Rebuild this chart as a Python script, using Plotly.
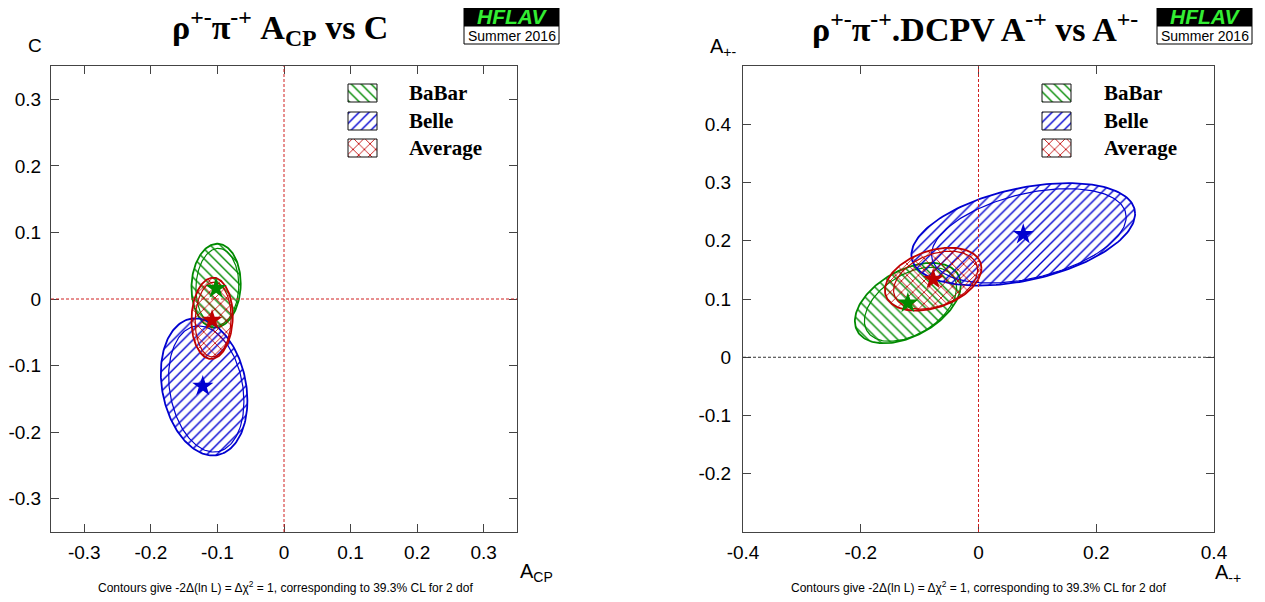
import numpy as np
import plotly.graph_objects as go

# experiments, in legend order
EXPERIMENTS = ["BaBar", "Belle", "Average"]
COLORS = {"BaBar": "#008a00", "Belle": "#0000d0", "Average": "#c00000"}
PATTERNS = {"BaBar": "\\", "Belle": "/", "Average": "x"}

# left panel: A_CP vs C  (centre, sigma, correlation)
ACP_MEAN = [-0.102, -0.120, -0.108]
ACP_SIGMA = [0.037, 0.065, 0.031]
C_MEAN = [0.020, -0.132, -0.029]
C_SIGMA = [0.063, 0.103, 0.061]
ACP_C_RHO = [0.05, -0.20, 0.05]
ACP_STAR = [-0.102, -0.122, -0.108]
C_STAR = [0.016, -0.131, -0.032]

# right panel: A-+ vs A+-
AMP_MEAN = [-0.120, 0.076, -0.077]
AMP_SIGMA = [0.090, 0.190, 0.082]
APM_MEAN = [0.093, 0.211, 0.134]
APM_SIGMA = [0.069, 0.088, 0.054]
AMP_APM_RHO = [0.45, 0.40, 0.35]

W, H = 1265, 602
OFF = 8  # page body margin shifts the figure


def px(p):
    return (p - OFF) / W


def py(p):
    return 1 - (p - OFF) / H


def ellipse(cx, cy, sx, sy, rho, n=181):
    t = np.linspace(0, 2 * np.pi, n)
    x = cx + sx * np.cos(t)
    y = cy + sy * (rho * np.cos(t) + np.sqrt(1 - rho ** 2) * np.sin(t))
    return x, y


def pattern(name):
    return dict(shape=PATTERNS[name], fgcolor=COLORS[name], fgopacity=1, bgcolor="rgba(0,0,0,0)",
                size=7 if name != "Average" else 8, solidity=0.2)


fig = go.Figure()


def add_panel(xs, sxs, ys, sys_, rhos, stars_x, stars_y, xaxis, yaxis):
    for i, name in enumerate(EXPERIMENTS):
        col = COLORS[name]
        x, y = ellipse(xs[i], ys[i], sxs[i], sys_[i], rhos[i])
        fig.add_trace(go.Scatter(
            x=x, y=y, mode="lines", fill="toself", name=name,
            line=dict(color=col, width=1.8), fillcolor="rgba(0,0,0,0)", fillpattern=pattern(name),
            xaxis=xaxis, yaxis=yaxis, showlegend=False, hoverinfo="skip"))
        # second, slightly smaller contour line inside the hatched region
        xi, yi = ellipse(xs[i] + 0.05 * sxs[i], ys[i] - 0.03 * sys_[i], 0.87 * sxs[i], 0.92 * sys_[i], rhos[i])
        fig.add_trace(go.Scatter(
            x=xi, y=yi, mode="lines", line=dict(color=col, width=1.2),
            xaxis=xaxis, yaxis=yaxis, showlegend=False, hoverinfo="skip"))
    for i, name in enumerate(EXPERIMENTS):
        fig.add_trace(go.Scatter(
            x=[stars_x[i]], y=[stars_y[i]], mode="markers",
            marker=dict(symbol="star", size=16, color=COLORS[name], line=dict(width=0)),
            xaxis=xaxis, yaxis=yaxis, showlegend=False, hoverinfo="skip"))


add_panel(ACP_MEAN, ACP_SIGMA, C_MEAN, C_SIGMA, ACP_C_RHO, ACP_STAR, C_STAR, "x", "y")
add_panel(AMP_MEAN, AMP_SIGMA, APM_MEAN, APM_SIGMA, AMP_APM_RHO, AMP_MEAN, APM_MEAN, "x2", "y2")

# legend boxes, drawn on a pixel overlay (x3/y3) so they can carry the hatch patterns
LEGEND_ROWS = [93, 121, 148]
for left, text_x in ((348, 407), (1042, 1102)):
    for name, yc in zip(EXPERIMENTS, LEGEND_ROWS):
        x0, x1, y0, y1 = left, left + 29, yc - 9, yc + 9
        fig.add_trace(go.Scatter(
            x=[x0, x1, x1, x0, x0], y=[y0, y0, y1, y1, y0], mode="lines", fill="toself",
            line=dict(color="#111", width=1), fillcolor="rgba(0,0,0,0)", fillpattern=pattern(name),
            xaxis="x3", yaxis="y3", showlegend=False, hoverinfo="skip"))
        fig.add_annotation(x=text_x, y=yc, xref="x3", yref="y3", text="<b>%s</b>" % name, showarrow=False,
                           xanchor="left", yanchor="middle",
                           font=dict(family="Liberation Serif, Times New Roman", size=21, color="black"))

axis_common = dict(showgrid=False, zeroline=False, showline=True, linecolor="#444", linewidth=1,
                   mirror="ticks", ticks="inside", ticklen=8, tickcolor="#444", automargin=False,
                   tickfont=dict(family="Liberation Sans, Arial", size=19, color="black"))

y_dom = [py(532), py(66)]
lt = [-0.3, -0.2, -0.1, 0, 0.1, 0.2, 0.3]
lt_text = ["-0.3", "-0.2", "-0.1", "0", "0.1", "0.2", "0.3"]
fig.update_layout(
    width=W, height=H, margin=dict(l=0, r=0, t=0, b=0, autoexpand=False),
    paper_bgcolor="white", plot_bgcolor="rgba(0,0,0,0)", showlegend=False,
    xaxis=dict(domain=[px(51), px(517)], range=[-0.35, 0.35], tickvals=lt, ticktext=lt_text,
               anchor="y", ticklabelstandoff=3, **axis_common),
    yaxis=dict(domain=y_dom, range=[-0.35, 0.35], tickvals=lt, ticktext=lt_text,
               anchor="x", ticklabelstandoff=5, **axis_common),
    xaxis2=dict(domain=[px(743), px(1214)], range=[-0.4, 0.4],
                tickvals=[-0.4, -0.2, 0, 0.2, 0.4], ticktext=["-0.4", "-0.2", "0", "0.2", "0.4"],
                anchor="y2", ticklabelstandoff=3, **axis_common),
    yaxis2=dict(domain=y_dom, range=[-0.3, 0.5],
                tickvals=[-0.2, -0.1, 0, 0.1, 0.2, 0.3, 0.4],
                ticktext=["-0.2", "-0.1", "0", "0.1", "0.2", "0.3", "0.4"],
                anchor="x2", ticklabelstandoff=7, **axis_common),
    xaxis3=dict(domain=[0, 1], range=[OFF, OFF + W], visible=False, fixedrange=True, anchor="y3"),
    yaxis3=dict(domain=[0, 1], range=[OFF + H, OFF], visible=False, fixedrange=True, anchor="x3"),
)

# dashed zero lines
dash_red = dict(color="#d02020", width=1, dash="3px,2px")
fig.add_shape(type="line", xref="x", yref="y domain", x0=0, x1=0, y0=0, y1=1, line=dash_red)
fig.add_shape(type="line", xref="x domain", yref="y", x0=0, x1=1, y0=0, y1=0, line=dash_red)
fig.add_shape(type="line", xref="x2", yref="y2 domain", x0=0, x1=0, y0=0, y1=1, line=dash_red)
fig.add_shape(type="line", xref="x2 domain", yref="y2", x0=0, x1=1, y0=0, y1=0,
              line=dict(color="#333", width=1, dash="3px,2px"))

sans = "Liberation Sans, Arial"
serif = "Liberation Serif, Times New Roman"


def text(x, y, s, size, family=sans, color="black", xanchor="center", yanchor="middle"):
    fig.add_annotation(x=px(x), y=py(y), xref="paper", yref="paper", text=s, showarrow=False,
                       font=dict(family=family, size=size, color=color), xanchor=xanchor, yanchor=yanchor)


# titles
text(280, 27, "<b>ρ<sup>+-</sup>π<sup>-+</sup> A<sub>CP</sub> vs C</b>", 34, serif)
text(975, 27, "<b>ρ<sup>+-</sup>π<sup>-+</sup>.DCPV A<sup>-+</sup> vs A<sup>+-</sup></b>", 34, serif)

# axis titles
text(35, 45, "C", 19)
text(536, 572, "A<sub>CP</sub>", 20)
text(724, 47, "A<sub>+-</sub>", 20)
text(1228, 573, "A<sub>-+</sub>", 20)

# footnotes
note = "Contours give -2Δ(ln L) = Δχ<sup>2</sup> = 1, corresponding to 39.3% CL for 2 dof"
text(285, 587, note, 12)
text(978, 587, note, 12)

# HFLAV logos
for x0 in (464, 1157):
    fig.add_shape(type="rect", xref="paper", yref="paper", x0=px(x0), x1=px(x0 + 95),
                  y0=py(26), y1=py(1), fillcolor="black", line=dict(color="black", width=1))
    fig.add_shape(type="rect", xref="paper", yref="paper", x0=px(x0), x1=px(x0 + 95),
                  y0=py(44), y1=py(26), fillcolor="white", line=dict(color="black", width=1))
    text(x0 + 47.5, 16.5, "<b><i>HFLAV</i></b>", 21, sans, color="#33ee33")
    text(x0 + 47.5, 35.5, "Summer 2016", 14, sans)

fig.write_html("out.html")
